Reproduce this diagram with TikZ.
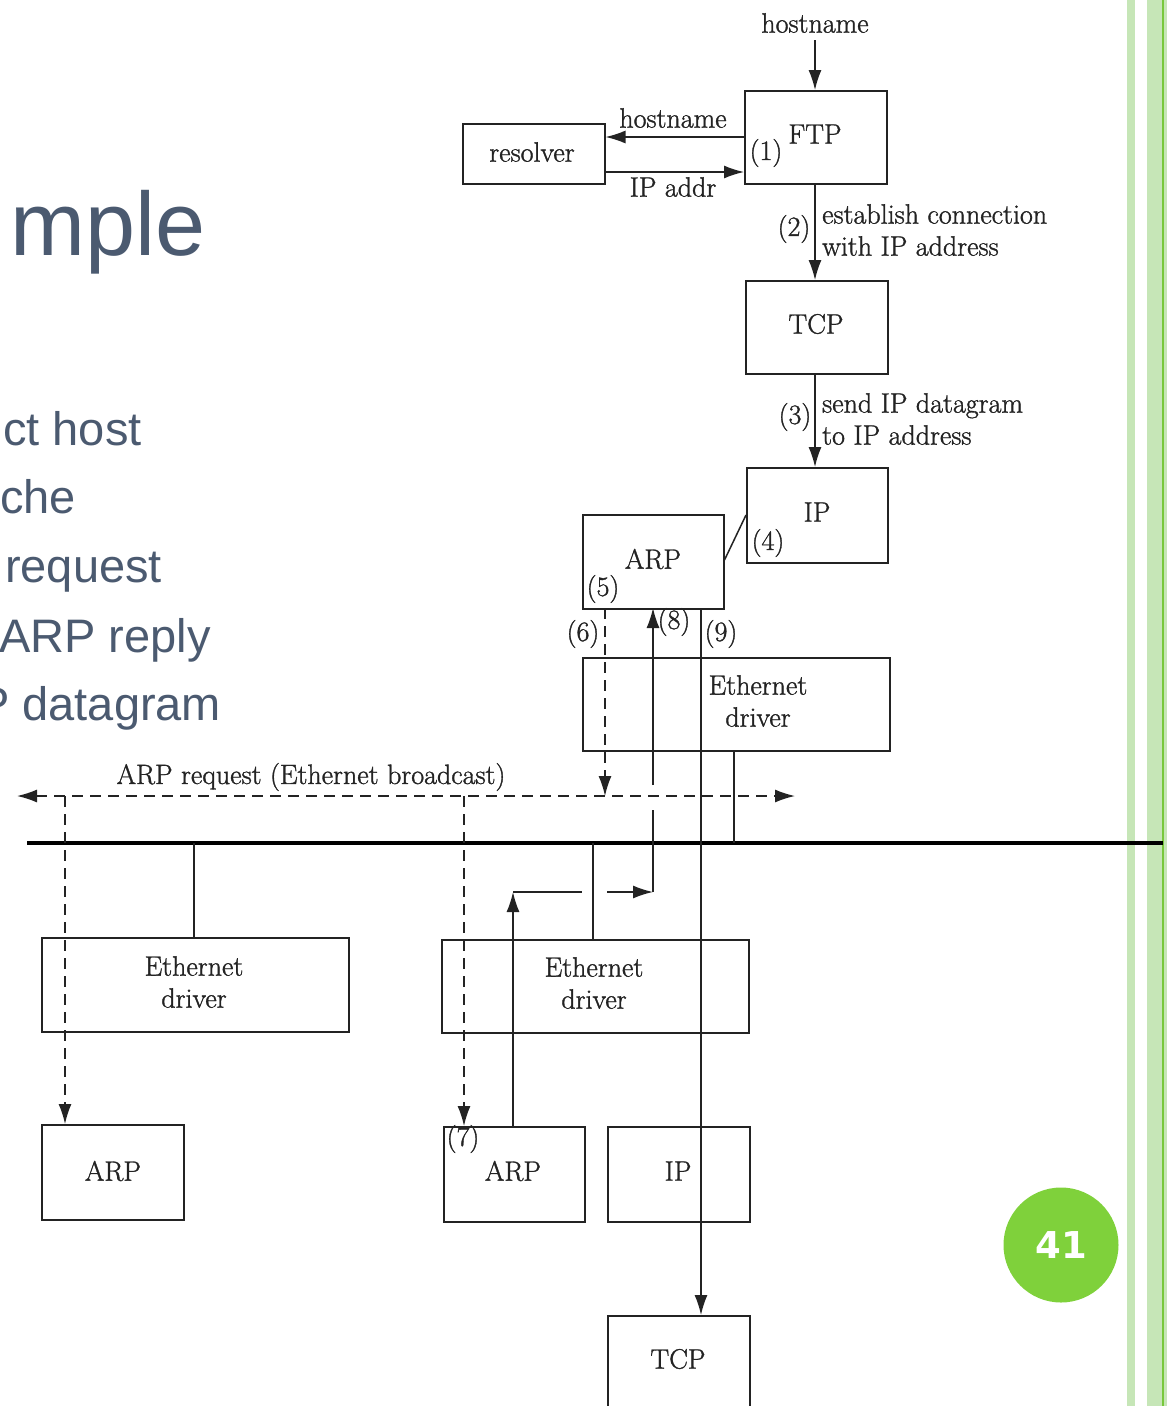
\documentclass[tikz,border=0pt]{standalone}
\usepackage{fontspec}
\newfontfamily\slidefont{Liberation Sans}
\newfontfamily\numfont{DejaVu Sans}
\newfontfamily\diagfont{Latin Modern Roman}[FakeBold=1.2]
\usetikzlibrary{arrows.meta}
\definecolor{slate}{RGB}{75,90,112}
\definecolor{lgreen}{RGB}{198,230,183}
\definecolor{dgreen}{RGB}{120,200,60}
\definecolor{bgreen}{RGB}{127,209,59}
\definecolor{ink}{RGB}{35,35,35}
\begin{document}
\begin{tikzpicture}[x=1pt,y=-1pt,
  box/.style={draw=ink, line width=1.5pt, inner sep=0pt, anchor=north west},
  lbl/.style={font=\diagfont\fontsize{28}{32}\selectfont, text=ink, inner sep=0pt},
  wire/.style={draw=ink, line width=1.5pt},
  arr/.style={wire, -{Latex[length=20pt,width=13pt]}},
  dwire/.style={wire, dash pattern=on 11pt off 7pt},
  darr/.style={dwire, -{Latex[length=20pt,width=13pt]}},
  slidetxt/.style={font=\slidefont\fontsize{47}{56}\selectfont, text=slate, inner sep=0pt, anchor=base west}
]
\useasboundingbox (0,0) rectangle (1167,1406);
% slide decoration
\fill[lgreen] (1127,0) rectangle (1135,1406);
\fill[lgreen] (1147,0) rectangle (1167,1406);
\fill[dgreen] (1161.5,0) rectangle (1163.5,1406);
\node[circle, fill=bgreen, minimum size=115pt, inner sep=0pt] (pg) at (1061,1245) {};
\node[font=\numfont\bfseries\fontsize{37}{40}\selectfont, text=white] (pgn) at (1061,1245) {41};
% slide text
\node[font=\slidefont\fontsize{90}{100}\selectfont, text=slate, inner sep=0pt, anchor=base west] (title) at (10,255) {mple};
\node[slidetxt] (b1) at (3,445) {ct host};
\node[slidetxt] (b2) at (0,513) {che};
\node[slidetxt] (b3) at (5,582) {request};
\node[slidetxt] (b4) at (-1,652) {ARP reply};
\node[slidetxt] (b5) at (-22,720) {P datagram};

% sending host boxes
\node[box, minimum width=142pt, minimum height=93pt] (ftp) at (744,90) {};
\node[box, minimum width=142pt, minimum height=60pt] (res) at (462,123) {};
\node[box, minimum width=142pt, minimum height=93pt] (tcp) at (745,280) {};
\node[box, minimum width=141pt, minimum height=95pt] (ip) at (746,467) {};
\node[box, minimum width=141pt, minimum height=94pt] (arp) at (582,514) {};
\node[box, minimum width=307pt, minimum height=93pt] (eth) at (582,657) {};
% other hosts
\node[box, minimum width=307pt, minimum height=94pt] (ethL) at (41,937) {};
\node[box, minimum width=142pt, minimum height=95pt] (arpL) at (41,1124) {};
\node[box, minimum width=307pt, minimum height=93pt] (ethM) at (441,939) {};
\node[box, minimum width=141pt, minimum height=95pt] (arpM) at (443,1126) {};
\node[box, minimum width=142pt, minimum height=95pt] (ipM) at (607,1126) {};
\node[box, minimum width=142pt, minimum height=120pt] (tcpM) at (607,1315) {};

% labels
\node[lbl] (hn0) at (815,23) {hostname};
\node[lbl] (ftpt) at (815,134) {FTP};
\node[lbl] (l1) at (766,153) {(1)};
\node[lbl] (hn1) at (673,118) {hostname};
\node[lbl] (ipa) at (673,187) {IP addr};
\node[lbl] (rest) at (532,152) {resolver};
\node[lbl] (l2) at (794,229) {(2)};
\node[lbl, anchor=west, align=left] (est) at (822,230) {establish connection\\with IP address};
\node[lbl] (tcpt) at (816,324) {TCP};
\node[lbl] (l3) at (795,417) {(3)};
\node[lbl, anchor=west, align=left] (send) at (822,419) {send IP datagram\\to IP address};
\node[lbl] (ipt) at (817,512) {IP};
\node[lbl] (l4) at (768,543) {(4)};
\node[lbl] (arpt) at (653,559) {ARP};
\node[lbl] (l5) at (603,589) {(5)};
\node[lbl] (l6) at (583,634) {(6)};
\node[lbl] (l8) at (674,622) {(8)};
\node[lbl] (l9) at (721,634) {(9)};
\node[lbl, align=center] (etht) at (758,701) {Ethernet\\driver};
\node[lbl] (bc) at (311,777) {ARP request (Ethernet broadcast)};
\node[lbl, align=center] (ethLt) at (194,982) {Ethernet\\driver};
\node[lbl] (arpLt) at (113,1171) {ARP};
\node[lbl, align=center] (ethMt) at (594,983) {Ethernet\\driver};
\node[lbl] (l7) at (463,1139) {(7)};
\node[lbl] (arpMt) at (513,1171) {ARP};
\node[lbl] (ipMt) at (678,1171) {IP};
\node[lbl] (tcpMt) at (678,1359) {TCP};

% coordinates
\coordinate (hnsrc) at (815,40);
\coordinate (bcL) at (17,796);
\coordinate (bcR) at (795,796);
\coordinate (busL) at (27,843);
\coordinate (busR) at (1163,843);
\coordinate (r1) at (513,892);
\coordinate (r2) at (582,892);
\coordinate (r3) at (607,892);
\coordinate (r4) at (653,892);
\coordinate (r5) at (653,810);
\coordinate (r6) at (653,785);

% top part
\draw[arr] (hnsrc) -- (hnsrc |- ftp.north);
\draw[arr] (ftp.west |- 0,137) -- (res.east |- 0,137);
\draw[arr] (res.east |- 0,172) -- (ftp.west |- 0,172);
\draw[arr] (815,183) -- (815,280);
\draw[arr] (815,373) -- (815,467);
\draw[wire] (arp.east |- 0,560) -- (ip.west |- 0,515);

% bus
\draw[draw=black, line width=4.5pt] (busL) -- (busR);
\draw[wire] (734,750) -- (734,843);
\draw[wire] (194,843) -- (194,937);
\draw[wire] (593,843) -- (593,939);

% ARP request broadcast
\draw[darr] (605,608) -- (605,796);
\draw[dwire, {Latex[length=20pt,width=13pt]}-{Latex[length=20pt,width=13pt]}] (bcL) -- (bcR);
\draw[darr] (65,796) -- (65,1124);
\draw[darr] (464,796) -- (464,1126);

% ARP reply
\draw[arr] (513,1126) -- (r1);
\draw[wire] (r1) -- (r2);
\draw[arr] (r3) -- (r4);
\draw[wire] (r4) -- (r5);
\draw[arr] (r6) -- (653,608);

% IP datagram
\draw[arr] (701,608) -- (701,1315);
\end{tikzpicture}
\end{document}
